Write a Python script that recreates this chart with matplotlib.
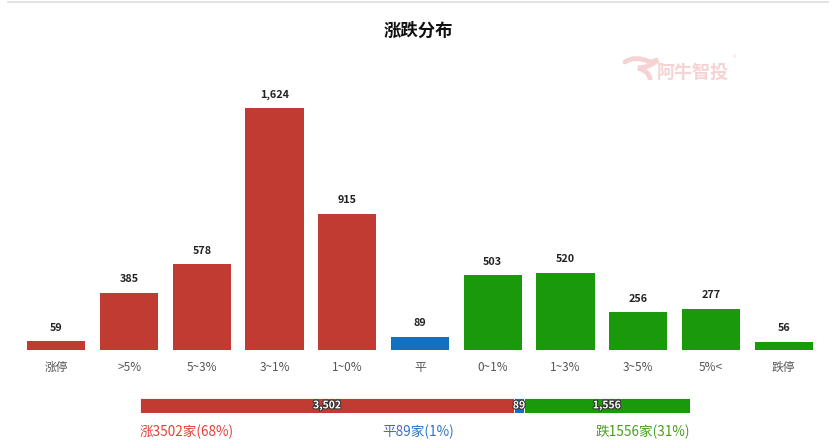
import matplotlib
matplotlib.use("Agg")
import matplotlib.pyplot as plt
import matplotlib.patheffects as pe
from matplotlib.path import Path
from matplotlib.patches import PathPatch

plt.rcParams['font.family'] = ['Noto Sans CJK SC', 'DejaVu Sans']

categories = ["涨停", ">5%", "5~3%", "3~1%", "1~0%", "平", "0~1%", "1~3%", "3~5%", "5%<", "跌停"]
values = [59, 385, 578, 1624, 915, 89, 503, 520, 256, 277, 56]
groups = ["up"] * 5 + ["flat"] + ["down"] * 5

summary_labels = ["涨3502家(68%)", "平89家(1%)", "跌1556家(31%)"]
summary_values = [3502, 89, 1556]

RED, BLUE, GREEN = "#c23b32", "#1371bf", "#1a9a0a"
color_map = {"up": RED, "flat": BLUE, "down": GREEN}

W, H = 836, 448
fig = plt.figure(figsize=(W / 100, H / 100), dpi=100)

def ax_rect(x0, y0, x1, y1):
    return [x0 / W, 1 - y1 / H, (x1 - x0) / W, (y1 - y0) / H]

# top divider line
fig.add_artist(plt.Line2D([8 / W, 828 / W], [1 - 2 / H, 1 - 2 / H], color="#dddddd", lw=1.2))

# title
fig.text(418 / W, 1 - 31 / H, "涨跌分布", ha="center", va="center", fontsize=12.5,
         fontweight="bold", color="#111111")

# watermark
WM = "#f6d3d3"
fig.text(657 / W, 1 - 72 / H, "阿牛智投", ha="left", va="center", fontsize=13,
         fontweight="bold", color=WM)
fig.text(733 / W, 1 - 58 / H, "®", ha="left", va="center", fontsize=5, color=WM)
wax = fig.add_axes(ax_rect(620, 50, 660, 90))
wax.set_xlim(620, 660)
wax.set_ylim(90, 50)
wax.axis("off")
verts = [(625, 62), (635, 55), (650, 62), (658, 60), (648, 68), (638, 68), (652, 72),
         (650, 84), (636, 86), (630, 84)]
codes = [Path.MOVETO, Path.CURVE3, Path.CURVE3, Path.LINETO, Path.CURVE3, Path.CURVE3,
         Path.CURVE3, Path.CURVE3, Path.CURVE3, Path.LINETO]
wax.add_patch(PathPatch(Path(verts, codes), facecolor="none", edgecolor=WM, lw=3.5,
                        capstyle="round"))

# main bar chart
ax = fig.add_axes(ax_rect(20, 80, 820, 350))
x = list(range(len(categories)))
cols = [color_map[g] for g in groups]
ax.bar(x, values, width=0.8, color=cols)
ax.set_xlim(-0.5, len(categories) - 0.5)
ax.set_ylim(0, 1812)
for xi, v in zip(x, values):
    ax.annotate(f"{v:,}", (xi, v), xytext=(0, 6), textcoords="offset points",
                ha="center", va="bottom", fontsize=7.8, fontweight="bold", color="#222222")
ax.set_xticks(x)
ax.set_xticklabels(categories, fontsize=8.5, color="#555555")
ax.tick_params(axis="x", length=0, pad=8)
ax.set_yticks([])
for s in ax.spines.values():
    s.set_visible(False)

# summary stacked bar
ax2 = fig.add_axes(ax_rect(140, 398, 690, 413))
total = sum(summary_values)
left = 0
for v, c in zip(summary_values, [RED, BLUE, GREEN]):
    ax2.barh(0, v, left=left, height=1.0, color=c, edgecolor="white", linewidth=0.6)
    ax2.text(left + v / 2, 0, f"{v:,}", ha="center", va="center", fontsize=7.5,
             fontweight="bold", color="white",
             path_effects=[pe.withStroke(linewidth=1.5, foreground="#333333")])
    left += v
ax2.set_xlim(0, total)
ax2.set_ylim(-0.5, 0.5)
ax2.axis("off")

fig.text(140 / W, 1 - 432 / H, summary_labels[0], ha="left", va="center", fontsize=9.8, color="#e0433a")
fig.text(418 / W, 1 - 432 / H, summary_labels[1], ha="center", va="center", fontsize=9.8, color="#2f74c4")
fig.text(690 / W, 1 - 432 / H, summary_labels[2], ha="right", va="center", fontsize=9.8, color="#4a9e22")

fig.savefig("out.png", dpi=100)
